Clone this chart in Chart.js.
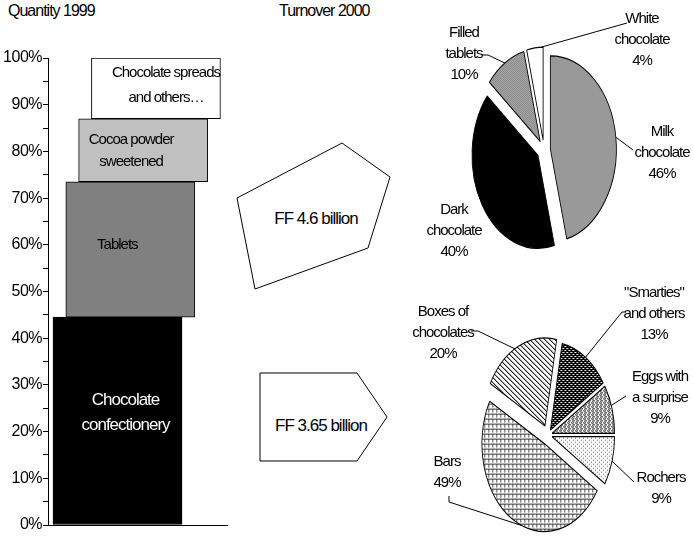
<!DOCTYPE html>
<html>
<head>
<meta charset="utf-8">
<script src="https://cdn.jsdelivr.net/npm/chart.js@4/dist/chart.umd.min.js"></script>
<style>
  html, body { margin: 0; padding: 0; background: #fff; }
  #page { position: relative; width: 694px; height: 540px; overflow: hidden; font-family: 'Liberation Sans', Arial, sans-serif; color: #000; }
  #page canvas, #page svg { position: absolute; left: 0; top: 0; }
  .title { position: absolute; top: 2px; font-size: 16px; letter-spacing: -1px; white-space: nowrap; }
</style>
</head>
<body>
<div id="page">
  <div class="title" style="left: 8px">Quantity 1999</div>
  <div class="title" style="left: 279px">Turnover 2000</div>
  <svg width="694" height="540">
    <polygon points="342,143 390,177 368,248 255,289 237,198" fill="#fff" stroke="#000" stroke-width="1" />
    <polygon points="260,373 357,373 387,417 357,461 260,461" fill="#fff" stroke="#000" stroke-width="1" />
    <text id="tabletTotal" x="316" y="218" text-anchor="middle" dominant-baseline="central" font-size="17" letter-spacing="-1"></text>
    <text id="confecTotal" x="321" y="425" text-anchor="middle" dominant-baseline="central" font-size="17" letter-spacing="-1"></text>
  </svg>
  <canvas id="qty" width="694" height="540"></canvas>
  <canvas id="tablets" width="694" height="540"></canvas>
  <canvas id="confec" width="694" height="540"></canvas>
</div>
<script>
const FONT = "'Liberation Sans', Arial, sans-serif"

// Quantity 1999 – share of volume by family (%)
const qtyCategories = [['Chocolate', 'confectionery'], ['Tablets'], ['Cocoa powder', 'sweetened'], ['Chocolate spreads', 'and others…']]
const qtyShares = [44.5, 29, 13.5, 13]
const qtyTicks = [0, 10, 20, 30, 40, 50, 60, 70, 80, 90, 100]

// Turnover 2000 – tablets
const tabletTotal = 'FF 4.6 billion'
const tabletCategories = [['Milk', 'chocolate'], ['Dark', 'chocolate'], ['Filled', 'tablets'], ['White', 'chocolate']]
const tabletShares = [46, 40, 10, 4]

// Turnover 2000 – confectionery
const confecTotal = 'FF 3.65 billion'
const confecCategories = [['"Smarties"', 'and others'], ['Eggs with', 'a surprise'], ['Rochers'], ['Bars'], ['Boxes of', 'chocolates']]
const confecShares = [13, 9, 9, 49, 20]

document.getElementById('tabletTotal').textContent = tabletTotal
document.getElementById('confecTotal').textContent = confecTotal

// pies are drawn squashed horizontally into ovals
const SQUASH = 0.71

// floating segments stacked one on top of the other
let acc = 0
const qtyRanges = qtyShares.map(v => {
  const r = [acc, acc + v]
  acc += v
  return r
})

// label styling for the stacked blocks
const qtyText = [
  { dx: 8, dy: -8, size: 17, lh: 25, color: '#fff' },
  { dx: -13, dy: -5, size: 15, lh: 22, color: '#000' },
  { dx: -12, dy: 1, size: 15, lh: 22, color: '#000' },
  { dx: 10, dy: -3, size: 15, lh: 25, color: '#000' }
]

// hatch fills for the pie slices
function hatch (w, h, bg, paint) {
  const c = document.createElement('canvas')
  c.width = w
  c.height = h
  const g = c.getContext('2d')
  g.fillStyle = bg
  g.fillRect(0, 0, w, h)
  paint(g)
  const p = g.createPattern(c, 'repeat')
  p.setTransform(new DOMMatrix([1 / SQUASH, 0, 0, 1, 0, 0]))
  return p
}
function dots (g, color, pts) {
  g.fillStyle = color
  pts.forEach(([x, y]) => g.fillRect(x, y, 1, 1))
}

const crossGrey = hatch(4, 4, '#fff', g => dots(g, '#333', [[0, 0], [1, 1], [2, 2], [3, 3], [0, 2], [2, 0], [3, 1], [1, 3]]))
const diagLines = hatch(5, 5, '#fff', g => {
  dots(g, '#222', [[0, 0], [1, 1], [2, 2], [3, 3], [4, 4]])
  dots(g, '#999', [[1, 0], [2, 1], [3, 2], [4, 3], [0, 4]])
})
const darkTrellis = hatch(4, 4, '#000', g => dots(g, '#fff', [[1, 1], [3, 3], [2, 1], [0, 3]]))
const mediumDots = hatch(4, 4, '#fff', g => dots(g, '#111', [[0, 0], [2, 0], [1, 1], [3, 2], [1, 3], [2, 2]]))
const lightDots = hatch(4, 4, '#fff', g => dots(g, '#555', [[0, 0], [2, 2]]))
const brick = hatch(4, 5, '#fff', g => {
  g.fillStyle = '#333'
  g.fillRect(0, 0, 4, 1)
  dots(g, '#555', [[1, 1], [1, 2], [1, 3]])
})

// stacked block labels
const blockText = {
  id: 'blockText',
  beforeDraw (chart) {
    chart.ctx.letterSpacing = '-0.5px'
  },
  afterDatasetsDraw (chart) {
    const ctx = chart.ctx
    const bars = chart.getDatasetMeta(0).data
    ctx.save()
    ctx.textAlign = 'center'
    ctx.textBaseline = 'middle'
    ctx.letterSpacing = '-1px'
    bars.forEach((bar, i) => {
      const s = qtyText[i]
      const lines = qtyCategories[i]
      const cx = bar.x + s.dx
      const cy = (bar.y + bar.base) / 2 + s.dy
      ctx.font = `${s.size}px ${FONT}`
      ctx.fillStyle = s.color
      lines.forEach((line, j) => ctx.fillText(line, cx, cy + (j - (lines.length - 1) / 2) * s.lh))
    })
    ctx.restore()
  }
}

new Chart(document.getElementById('qty'), {
  type: 'bar',
  data: {
    datasets: [{
      data: qtyRanges.map((r, i) => ({ x: i, y: r })),
      backgroundColor: ['#000', '#808080', '#c0c0c0', '#fff'],
      borderColor: '#000',
      borderWidth: 1,
      borderSkipped: false,
      barThickness: 129
    }]
  },
  options: {
    responsive: false,
    animation: false,
    events: [],
    layout: { padding: { left: 0, top: 58, right: 467, bottom: 15 } },
    scales: {
      x: {
        type: 'linear',
        min: -5.43,
        max: 8.55,
        offset: false,
        ticks: { display: false },
        grid: { display: false },
        border: { display: true, color: '#000', width: 1 },
        afterFit: s => { s.height = 0 }
      },
      y: {
        min: 0,
        max: 100,
        ticks: {
          stepSize: 5,
          autoSkip: false,
          padding: 1,
          color: '#000',
          font: { family: FONT, size: 16 },
          callback: v => qtyTicks.includes(v) ? v + '%' : ''
        },
        grid: { drawOnChartArea: false, tickLength: 5, color: '#000' },
        border: { color: '#000', width: 1 },
        afterFit: s => { s.width = 48 }
      }
    },
    plugins: { legend: { display: false }, tooltip: { enabled: false } }
  },
  plugins: [blockText]
})

// draws the arcs as an oval, each slice pulled out along its middle angle
function ovalPie (explode) {
  return {
    id: 'ovalPie',
    beforeDatasetsDraw (chart) {
      const ctx = chart.ctx
      const arcs = chart.getDatasetMeta(0).data
      const { x, y } = arcs[0]
      ctx.save()
      ctx.translate(x, y)
      ctx.scale(SQUASH, 1)
      ctx.translate(-x, -y)
      arcs.forEach((arc, i) => {
        const mid = (arc.startAngle + arc.endAngle) / 2
        ctx.save()
        ctx.translate(Math.cos(mid) * explode[i], Math.sin(mid) * explode[i])
        arc.draw(ctx)
        ctx.restore()
      })
      ctx.restore()
      return false
    }
  }
}

// slice captions with leader lines
function pieNotes (categories, shares, explode, notes) {
  return {
    id: 'pieNotes',
    afterDraw (chart) {
      const ctx = chart.ctx
      const arcs = chart.getDatasetMeta(0).data
      ctx.save()
      ctx.font = `15px ${FONT}`
      ctx.letterSpacing = '-1px'
      ctx.textAlign = 'center'
      ctx.textBaseline = 'middle'
      ctx.fillStyle = '#000'
      ctx.strokeStyle = '#000'
      ctx.lineWidth = 1
      arcs.forEach((arc, i) => {
        const n = notes[i]
        const lines = categories[i].concat(shares[i] + '%')
        lines.forEach((line, j) => ctx.fillText(line, n.x, n.y + j * 21))
        if (!n.lead) return
        const a = arc.startAngle + n.at * (arc.endAngle - arc.startAngle)
        const mid = (arc.startAngle + arc.endAngle) / 2
        const sx = arc.x + (Math.cos(a) * arc.outerRadius + Math.cos(mid) * explode[i]) * SQUASH
        const sy = arc.y + Math.sin(a) * arc.outerRadius + Math.sin(mid) * explode[i]
        ctx.beginPath()
        ctx.moveTo(sx, sy)
        n.lead.forEach(([px, py]) => ctx.lineTo(px, py))
        ctx.stroke()
      })
      ctx.restore()
    }
  }
}

function pieChart (id, categories, shares, colors, radius, rotation, padding, explode, notes) {
  return new Chart(document.getElementById(id), {
    type: 'pie',
    data: {
      labels: categories,
      datasets: [{
        data: shares,
        backgroundColor: colors,
        borderColor: '#000',
        borderWidth: 1.2,
        radius
      }]
    },
    options: {
      responsive: false,
      animation: false,
      events: [],
      rotation,
      layout: { padding },
      plugins: { legend: { display: false }, tooltip: { enabled: false } }
    },
    plugins: [ovalPie(explode), pieNotes(categories, shares, explode, notes)]
  })
}

pieChart('tablets', tabletCategories, tabletShares,
  ['#999999', '#000', crossGrey, '#fff'], 93, 0,
  { left: 444, right: 50, top: 50, bottom: 290 },
  [9, 10, 10, 10],
  [
    { x: 662, y: 132, at: 0.5, lead: [[633, 150]] },
    { x: 454, y: 210 },
    { x: 464, y: 33, at: 0.5, lead: [[488, 55], [482, 55]] },
    { x: 642, y: 19, at: 0.9, lead: [[627, 23]] }
  ])

pieChart('confec', confecCategories, confecShares,
  [darkTrellis, mediumDots, lightDots, brick, diagLines], 88, 10.8,
  { left: 448, right: 46, top: 335, bottom: 5 },
  [6, 6, 6, 10, 10],
  [
    { x: 654, y: 293, at: 0.5, lead: [[622, 312], [626, 312]] },
    { x: 660, y: 377, at: 0.43, lead: [[626, 396]] },
    { x: 661, y: 478, at: 0.5, lead: [[634, 482]] },
    { x: 447, y: 462, at: 0.45, lead: [[449, 502], [449, 496]] },
    { x: 443, y: 312, at: 0.45, lead: [[478, 331], [471, 331]] }
  ])
</script>
</body>
</html>
